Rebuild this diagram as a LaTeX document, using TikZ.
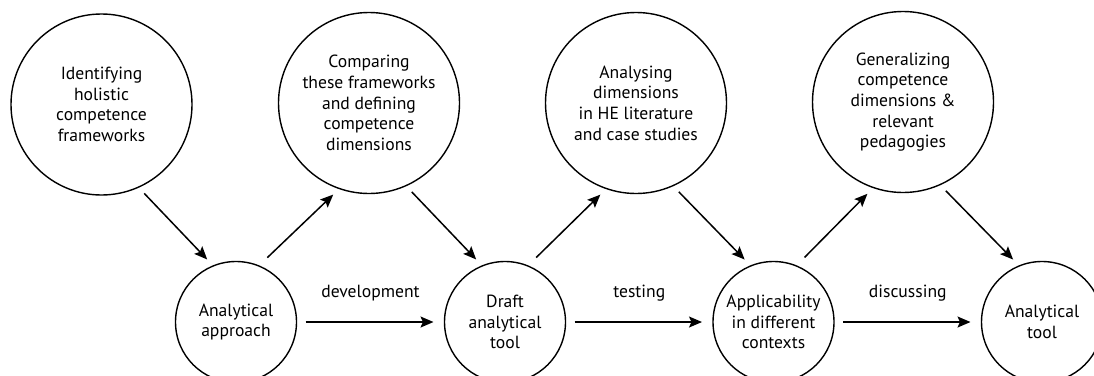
\documentclass[tikz,border=0pt]{standalone}
\usepackage{fontspec}
\setmainfont{PT Sans}
\usetikzlibrary{arrows.meta}
\begin{document}
\begin{tikzpicture}[x=1pt,y=-1pt,
  txt/.style={font=\fontsize{17.6}{20.7}\selectfont},
  stage/.style={circle,draw,line width=1.4pt,inner sep=0pt,outer sep=0pt,align=center,txt},
  big/.style={stage,minimum size=181pt},
  small/.style={stage,minimum size=121pt},
  arr/.style={-{Stealth[length=13pt,width=11pt,inset=2.5pt]},line width=1.5pt},
  down/.style={arr,shorten <=8.6pt,shorten >=8.9pt},
  up/.style={arr,shorten <=12pt,shorten >=8.7pt},
  flow/.style={arr,shorten <=9pt,shorten >=11pt},
  lbl/.style={txt,yshift=29pt}
]
\clip (0,0) rectangle (1094,375);

% upper row: activities
\node[big] (c1) at (101.5,104.5) {Identifying\\holistic\\competence\\frameworks};
\node[big] (c2) at (369,103) {Comparing\\these frameworks\\and defining\\competence\\dimensions};
\node[big] (c3) at (636,103) {Analysing\\dimensions\\in HE literature\\and case studies};
\node[big] (c4) at (903,102) {Generalizing\\competence\\dimensions \&\\relevant\\pedagogies};

% lower row: outcomes
\node[small] (a) at (236,322) {Analytical\\approach};
\node[small] (b) at (505,322) {Draft\\analytical\\tool};
\node[small] (c) at (773.5,322) {Applicability\\in different\\contexts};
\node[small] (d) at (1042,322) {Analytical\\tool};

% activities feeding outcomes
\draw[down] (c1.-66) -- (a.112);
\draw[down] (c2.-66) -- (b.112);
\draw[down] (c3.-66) -- (c.112);
\draw[down] (c4.-66) -- (d.112);

% outcomes leading to next activity
\draw[up] (a.68) -- (c2.251);
\draw[up] (b.68) -- (c3.251);
\draw[up] (c.68) -- (c4.251);

% main sequence
\draw[flow] (a.east) -- node[lbl]{development} (b.west);
\draw[flow] (b.east) -- node[lbl]{testing} (c.west);
\draw[flow] (c.east) -- node[lbl]{discussing} (d.west);
\end{tikzpicture}
\end{document}
